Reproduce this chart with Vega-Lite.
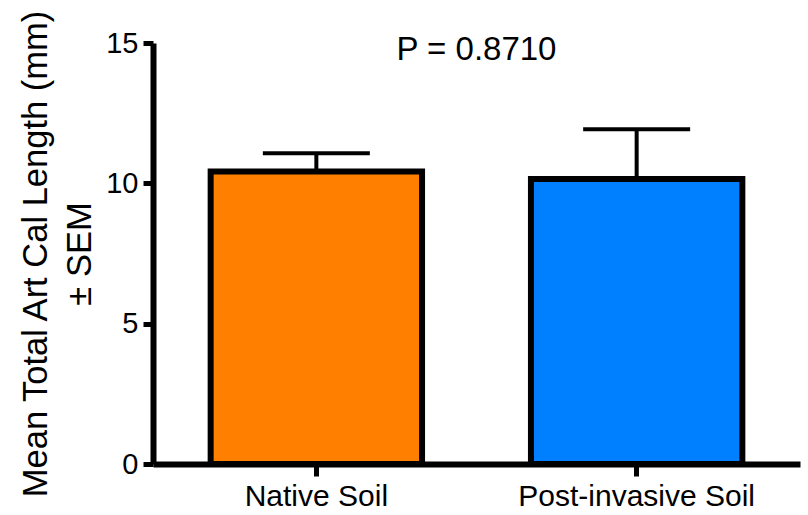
{
  "$schema": "https://vega.github.io/schema/vega-lite/v6.json",
  "width": 647,
  "height": 421,
  "autosize": {"type": "none"},
  "padding": {"left": 153, "top": 43, "right": 8, "bottom": 51},
  "background": "white",
  "config": {
    "view": {"stroke": null},
    "font": "Liberation Sans",
    "axis": {"grid": false, "domainColor": "black", "tickColor": "black", "labelColor": "black", "titleColor": "black", "labelFont": "Liberation Sans", "titleFont": "Liberation Sans", "labelLimit": 0}
  },
  "data": {
    "values": [
      {"group": "Native Soil", "mean": 10.42, "upper": 11.07},
      {"group": "Post-invasive Soil", "mean": 10.15, "upper": 11.93}
    ]
  },
  "layer": [
    {
      "mark": {"type": "bar", "stroke": "black", "strokeWidth": 6, "opacity": 1},
      "encoding": {
        "x": {
          "field": "group", "type": "nominal", "sort": null,
          "scale": {"paddingInner": 0.34, "paddingOuter": 0.18},
          "axis": {"title": null, "labelAngle": 0, "labelFontSize": 30, "labelPadding": 5, "labelLimit": 0, "domainWidth": 6, "tickWidth": 5, "tickSize": 12}
        },
        "y": {
          "field": "mean", "type": "quantitative",
          "scale": {"domain": [0, 15], "nice": false, "zero": true},
          "axis": {
            "title": ["Mean Total Art Cal Length (mm)", "± SEM"],
            "values": [0, 5, 10, 15],
            "labelFontSize": 29, "labelPadding": 5,
            "titleFontSize": 34.5, "titleFontWeight": "normal", "titleLineHeight": 44, "titlePadding": 8,
            "domainWidth": 6, "tickWidth": 5, "tickSize": 10
          }
        },
        "color": {
          "field": "group", "type": "nominal",
          "scale": {"domain": ["Native Soil", "Post-invasive Soil"], "range": ["#FF8000", "#0080FF"]},
          "legend": null
        }
      }
    },
    {
      "mark": {"type": "rule", "color": "black", "strokeWidth": 4},
      "encoding": {
        "x": {"field": "group", "type": "nominal", "sort": null},
        "y": {"field": "mean", "type": "quantitative"},
        "y2": {"field": "upper"}
      }
    },
    {
      "mark": {"type": "tick", "color": "black", "thickness": 4, "size": 107, "opacity": 1},
      "encoding": {
        "x": {"field": "group", "type": "nominal", "sort": null},
        "y": {"field": "upper", "type": "quantitative"}
      }
    },
    {
      "data": {"values": [{"label": "P = 0.8710", "pos": 14.39}]},
      "mark": {"type": "text", "fontSize": 33, "font": "Liberation Sans", "baseline": "alphabetic", "align": "center", "color": "black"},
      "encoding": {
        "y": {"field": "pos", "type": "quantitative"},
        "text": {"field": "label"}
      }
    }
  ]
}
